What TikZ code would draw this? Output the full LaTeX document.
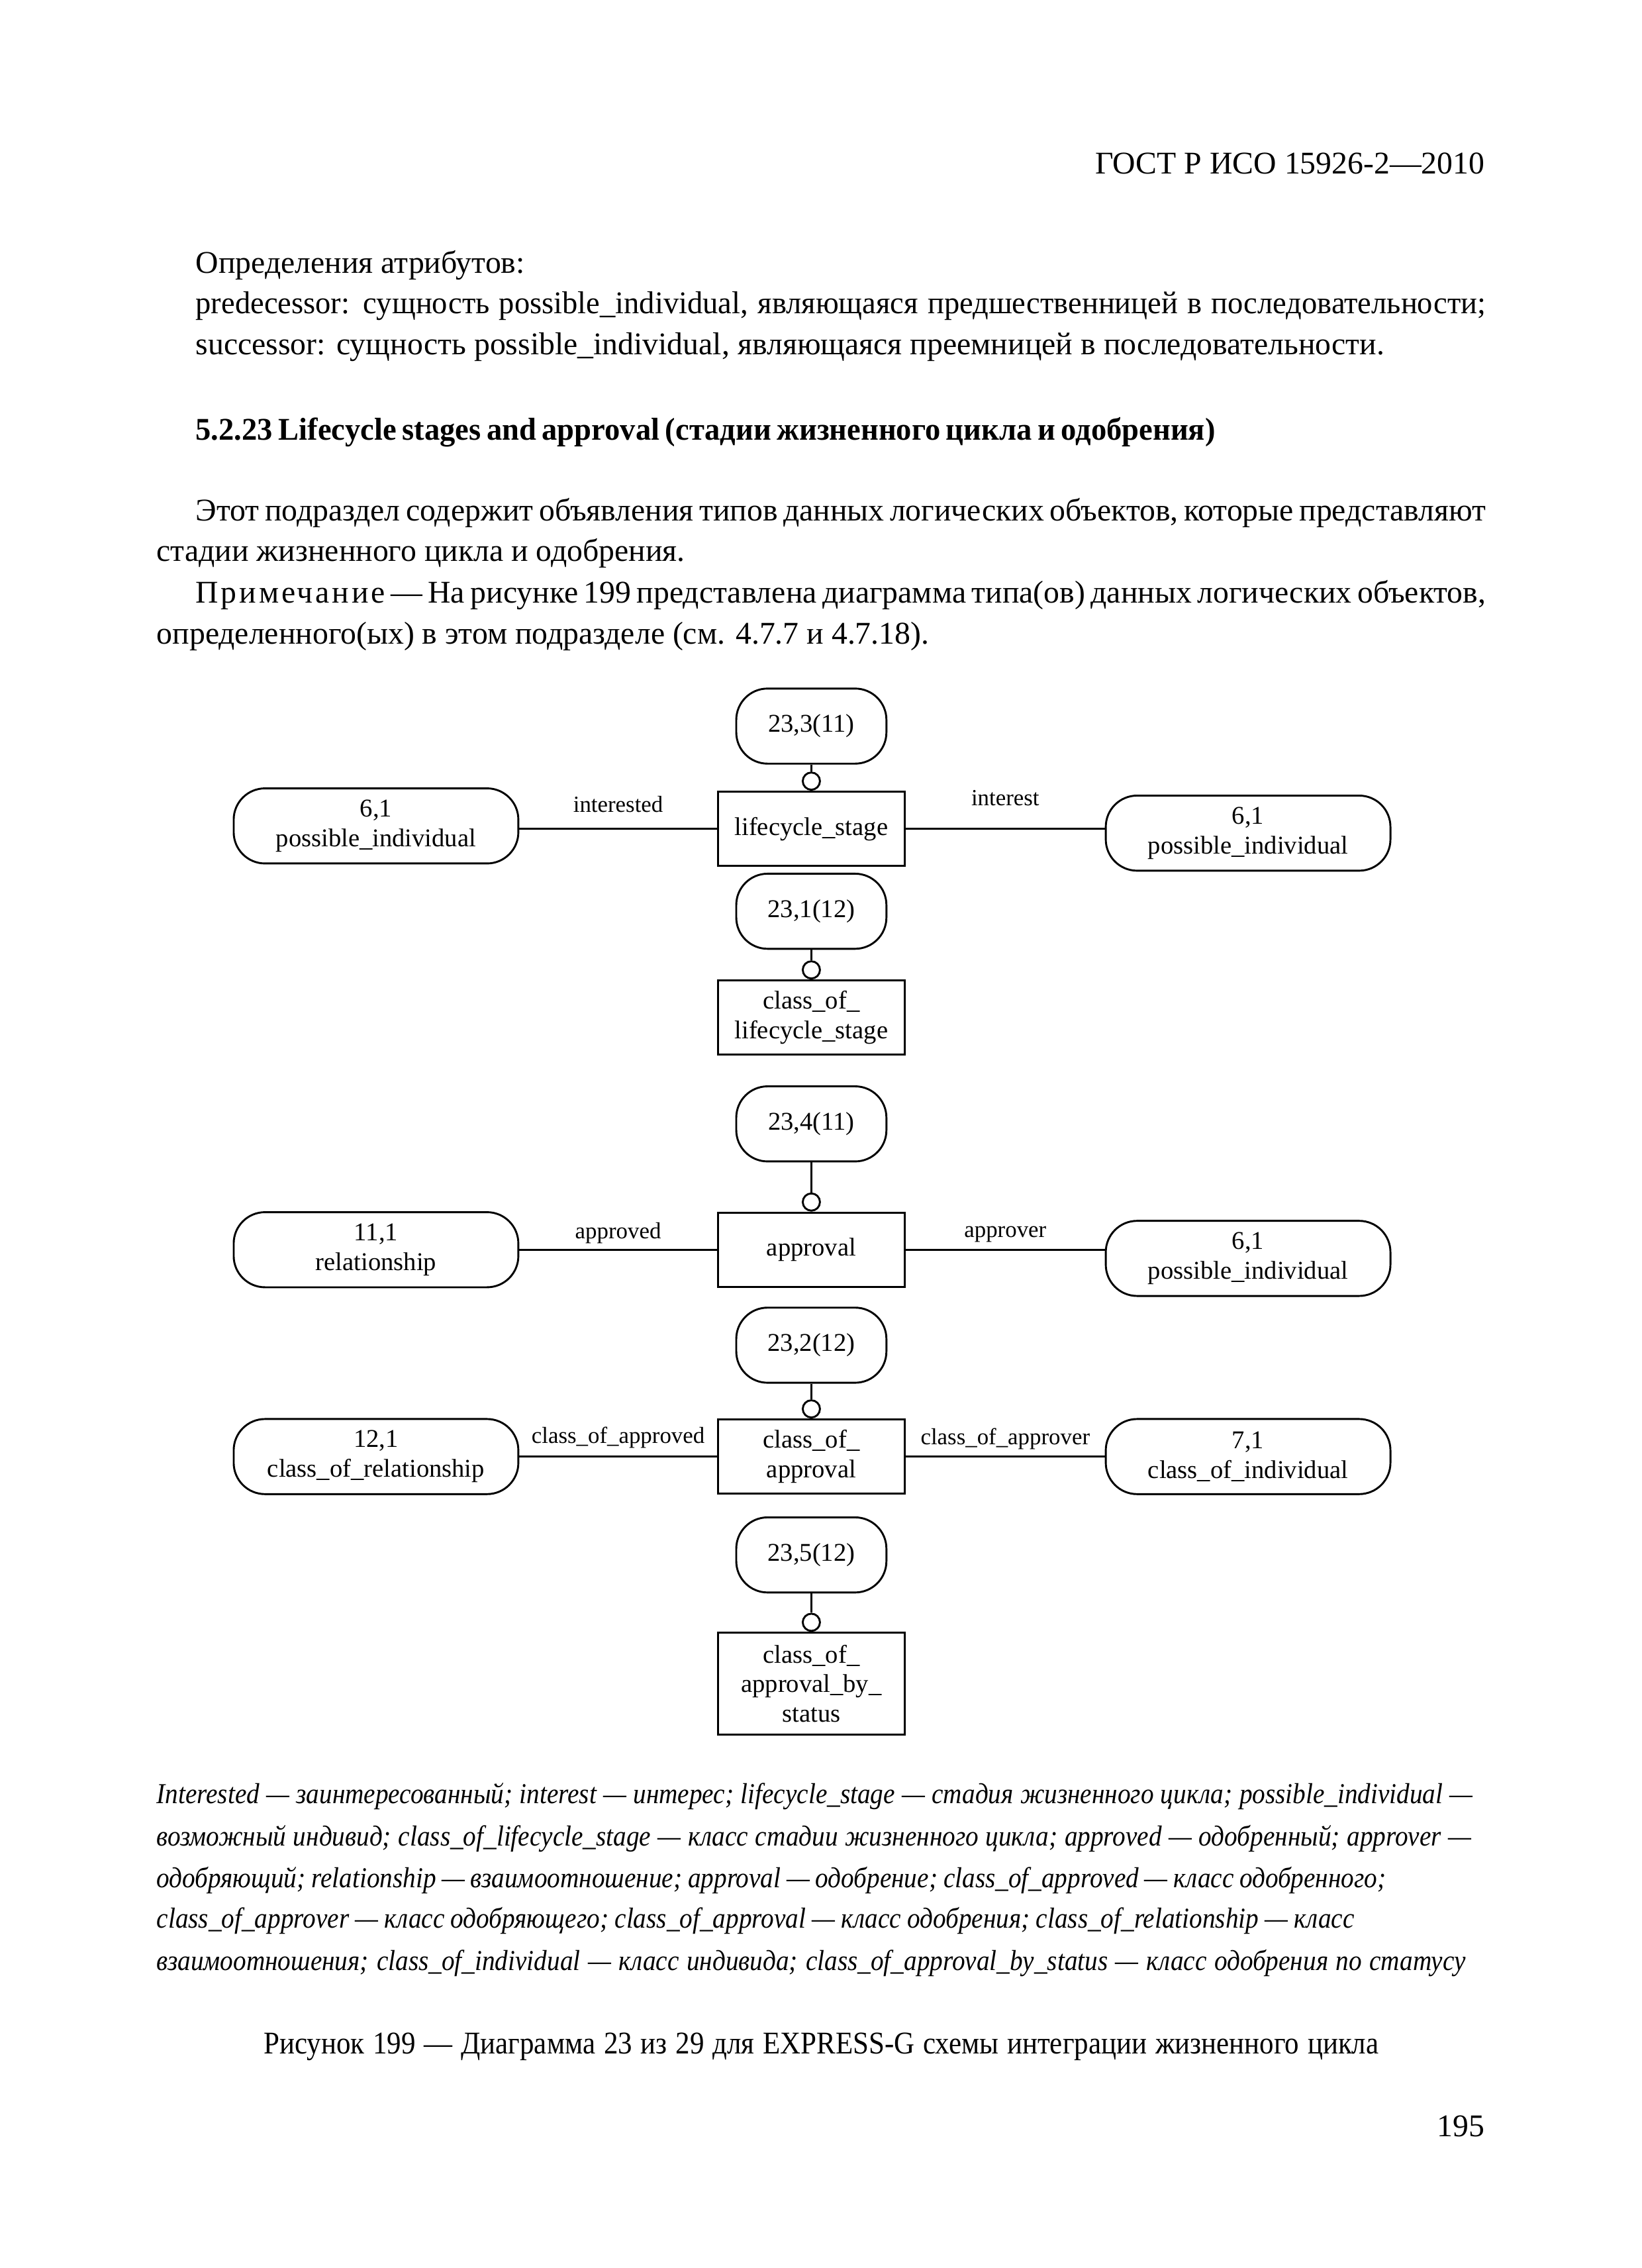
\documentclass[tikz,border=0pt]{standalone}
\usepackage{fontspec}
\setmainfont{Liberation Serif}
\newfontfamily\legendserif{Liberation Serif}[FakeStretch=0.9]
\newfontfamily\tightserif{Liberation Serif}[FakeStretch=0.975]
\usetikzlibrary{positioning}
\newdimen\upx \upx=0.0185cm
\newcommand{\fitline}[2]{\makebox[#1\upx][s]{#2}}

\begin{document}
\begin{tikzpicture}[
    x=0.0185cm, y=-0.0185cm,
    txt/.style={anchor=base west, inner sep=0, font=\fontsize{11.5}{14}\selectfont},
    legend/.style={anchor=base west, inner sep=0, font=\legendserif\fontsize{10.5}{13}\selectfont\itshape},
    entity/.style={rectangle, draw, line width=0.7pt, minimum width=2.39cm, minimum height=0.95cm, align=center, inner sep=1pt, font=\fontsize{9.3}{10.8}\selectfont},
    ref/.style={rectangle, draw, rounded corners=0.4cm, line width=0.7pt, minimum width=1.92cm, minimum height=0.96cm, align=center, inner sep=1pt, font=\fontsize{9.3}{10.8}\selectfont},
    pill/.style={rectangle, draw, rounded corners=0.4cm, line width=0.7pt, minimum width=3.64cm, minimum height=0.96cm, align=center, inner sep=1pt, font=\fontsize{9.3}{10.8}\selectfont},
    ring/.style={circle, draw, line width=0.7pt, minimum size=0.22cm, inner sep=0},
    conn/.style={line width=0.7pt},
    lbl/.style={font=\fontsize{8.4}{10}\selectfont, inner sep=1pt}
]
    \fill[white] (0,0) rectangle (1135,1568);
    \useasboundingbox (0,0) rectangle (1135,1568);

    \node[txt, anchor=base east] (head) at (1027,120) {ГОСТ Р ИСО 15926-2—2010};
    \node[txt] (t1) at (135,189) {Определения атрибутов:};
    \node[txt] (t2) at (135,217) {\fitline{892}{\tightserif predecessor: сущность possible\_individual, являющаяся предшественницей в последовательности;}};
    \node[txt] (t3) at (135,245) {\fitline{822}{successor: сущность possible\_individual, являющаяся преемницей в последовательности.}};
    \node[txt, font=\tightserif\fontsize{11.5}{14}\selectfont\bfseries] (sec) at (135,304) {\fitline{705}{5.2.23 Lifecycle stages and approval (стадии жизненного цикла и одобрения)}};
    \node[txt] (p1) at (135,360) {\fitline{892}{Этот подраздел содержит объявления типов данных логических объектов, которые представляют}};
    \node[txt] (p2) at (108,388) {стадии жизненного цикла и одобрения.};
    \node[txt] (p3) at (135,417) {\fitline{892}{{\addfontfeature{LetterSpace=8}Примечание} — На рисунке 199 представлена диаграмма типа(ов) данных логических объектов,}};
    \node[txt] (p4) at (108,445) {определенного(ых) в этом подразделе (см. 4.7.7 и 4.7.18).};

    \node[ref] (r33) at (561,502) {23,3(11)};
    \node[entity] (lcs) at (561,573) {lifecycle\_stage};
    \node[pill] (pi1) at (260,571) {6,1\\possible\_individual};
    \node[pill] (pi2) at (863,576) {6,1\\possible\_individual};
    \node[ring, above=0pt of lcs] (c33) {};
    \node[ref] (r31) at (561,630) {23,1(12)};
    \node[entity] (clcs) at (561,703.5) {class\_of\_\\lifecycle\_stage};
    \node[ring, above=0pt of clcs] (c31) {};

    \node[ref] (r34) at (561,777) {23,4(11)};
    \node[entity] (appr) at (561,864) {approval};
    \node[pill] (rel) at (260,864) {11,1\\relationship};
    \node[pill] (pi3) at (863,870) {6,1\\possible\_individual};
    \node[ring, above=0pt of appr] (c34) {};

    \node[ref] (r32) at (561,930) {23,2(12)};
    \node[entity] (cappr) at (561,1007) {class\_of\_\\approval};
    \node[pill] (cor) at (260,1007) {12,1\\class\_of\_relationship};
    \node[pill] (coi) at (863,1007) {7,1\\class\_of\_individual};
    \node[ring, above=0pt of cappr] (c32) {};

    \node[ref] (r35) at (561,1075) {23,5(12)};
    \node[entity, minimum height=1.3cm] (cabs) at (561,1164) {class\_of\_\\approval\_by\_\\status};
    \node[ring, above=0pt of cabs] (c35) {};

    \draw[conn] (r33) -- (c33);
    \draw[conn] (r31) -- (c31);
    \draw[conn] (r34) -- (c34);
    \draw[conn] (r32) -- (c32);
    \draw[conn] (r35) -- (c35);

    \draw[conn] (pi1.east |- lcs.west) -- (lcs.west) node[lbl, midway, above=0.16cm] {interested};
    \draw[conn] (lcs.east) -- (lcs.east -| pi2.west) node[lbl, midway, above=0.25cm] {interest};
    \draw[conn] (rel.east) -- (appr.west) node[lbl, midway, above=0.03cm] {approved};
    \draw[conn] (appr.east) -- (appr.east -| pi3.west) node[lbl, midway, above=0.05cm] {approver};
    \draw[conn] (cor.east) -- (cappr.west) node[lbl, midway, above=0.06cm] {class\_of\_approved};
    \draw[conn] (cappr.east) -- (coi.west) node[lbl, midway, above=0.04cm] {class\_of\_approver};

    \node[legend] (l1) at (108,1247) {\fitline{910}{Interested — заинтересованный; interest — интерес; lifecycle\_stage — стадия жизненного цикла; possible\_individual —}};
    \node[legend] (l2) at (108,1276) {\fitline{909}{возможный индивид; class\_of\_lifecycle\_stage — класс стадии жизненного цикла; approved — одобренный; approver —}};
    \node[legend] (l3) at (108,1305) {\fitline{850}{одобряющий; relationship — взаимоотношение; approval — одобрение; class\_of\_approved — класс одобренного;}};
    \node[legend] (l4) at (108,1333) {\fitline{828}{class\_of\_approver — класс одобряющего; class\_of\_approval — класс одобрения; class\_of\_relationship — класс}};
    \node[legend] (l5) at (108,1362) {\fitline{905}{взаимоотношения; class\_of\_individual — класс индивида; class\_of\_approval\_by\_status — класс одобрения по статусу}};

    \node[txt, anchor=base west, font=\legendserif\fontsize{11.5}{14}\selectfont] (cap) at (182,1420) {\fitline{771}{Рисунок 199 — Диаграмма 23 из 29 для EXPRESS-G схемы интеграции жизненного цикла}};
    \node[txt, anchor=base east] (pg) at (1027,1477) {195};
\end{tikzpicture}
\end{document}
